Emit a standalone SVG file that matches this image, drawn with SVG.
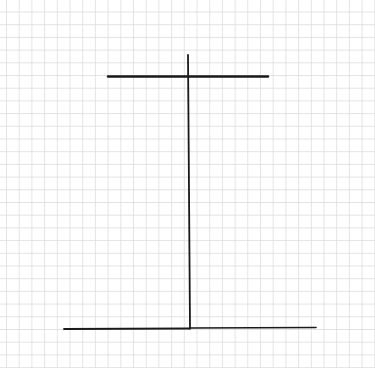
<svg xmlns="http://www.w3.org/2000/svg" width="375" height="368" viewBox="0 0 375 368">
<defs>
<pattern id="grid" x="6" y="11.5" width="12.7" height="12.7" patternUnits="userSpaceOnUse">
<path d="M0 0H12.7M0 0V12.7" fill="none" stroke="#dadada" stroke-width="1.4"/>
</pattern>
</defs>
<style>
.ink{fill:none;stroke:#1a1a1a;stroke-linecap:round}
</style>
<rect width="375" height="368" fill="#ffffff"/>
<rect width="375" height="368" fill="url(#grid)"/>
<g id="connectors">
<path class="ink" d="M108 76.5L268 76.5" stroke-width="2.4"/>
<path class="ink" d="M188 55L190 328.5" stroke-width="1.8"/>
<path class="ink" d="M64 329L190 328.5" stroke-width="1.8"/>
<path class="ink" d="M190 328L316 327.5" stroke-width="1.6"/>
</g>
</svg>
